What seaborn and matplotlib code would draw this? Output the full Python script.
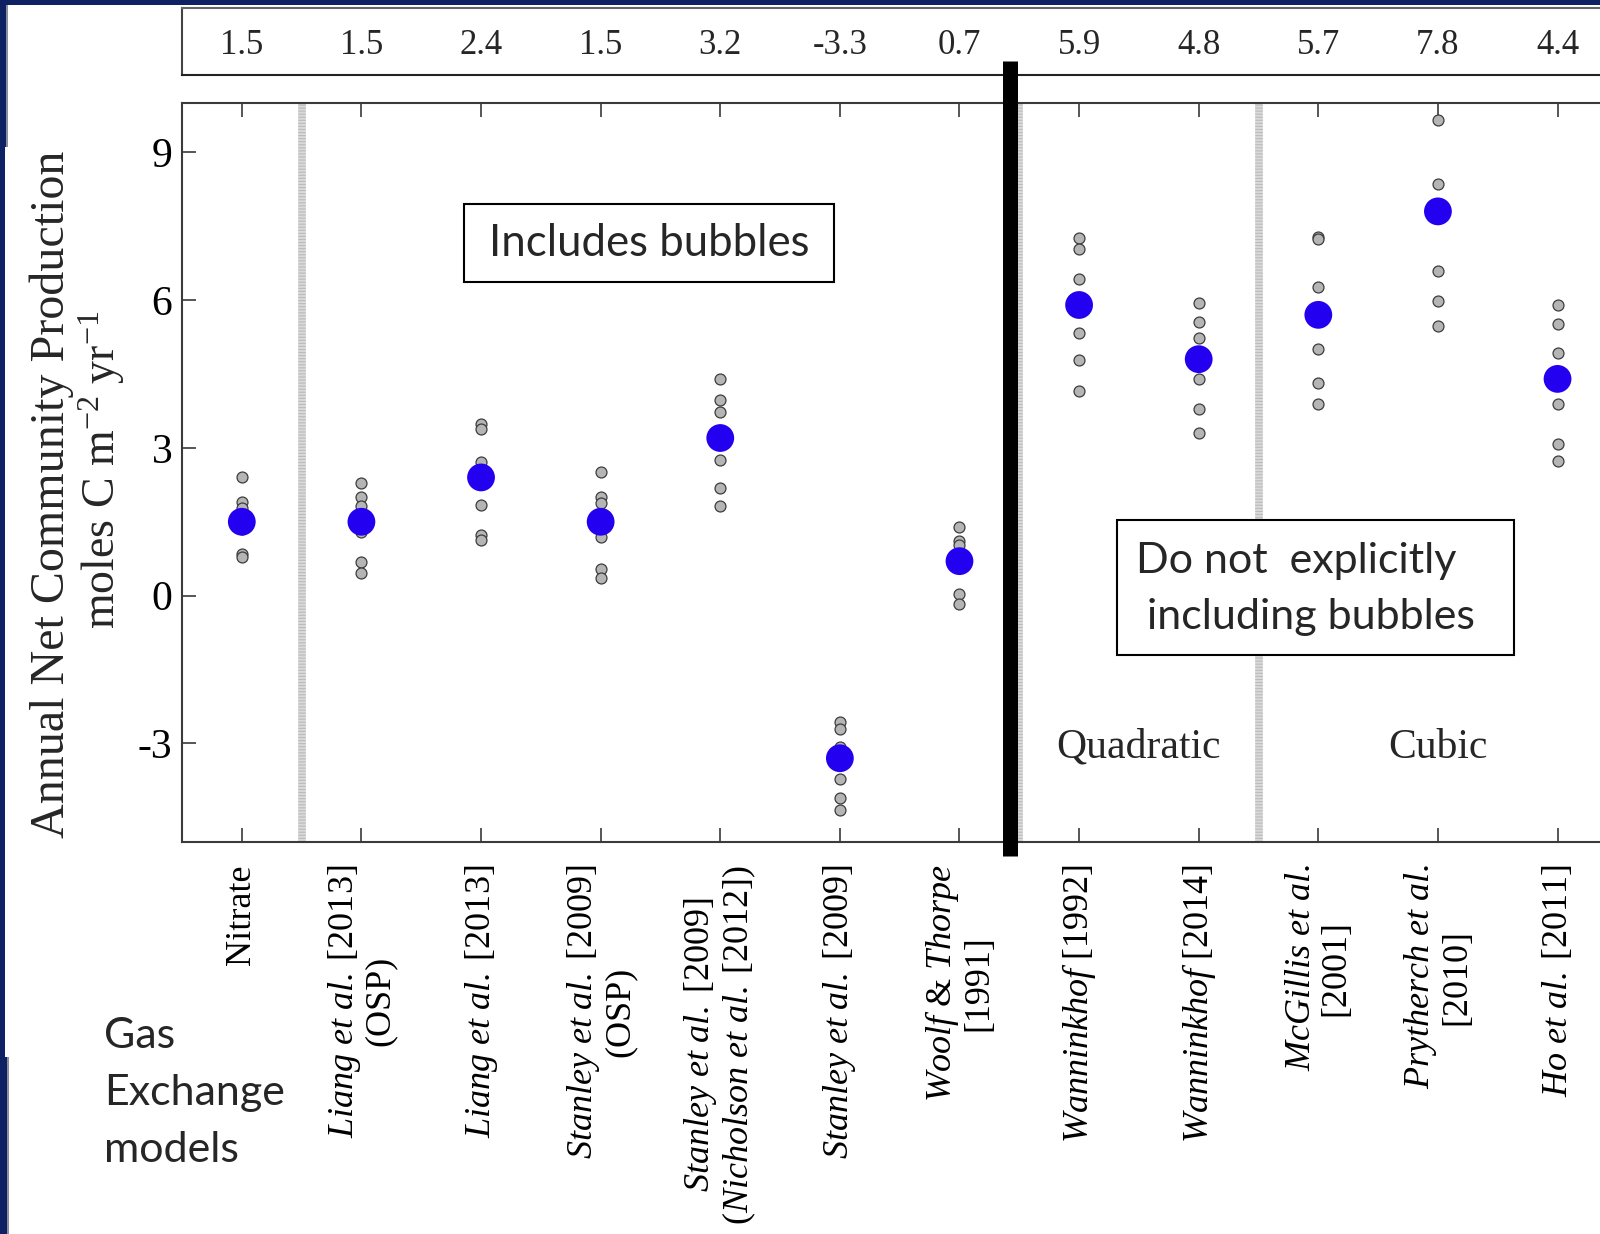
import matplotlib
matplotlib.use("Agg")
import matplotlib.pyplot as plt
from matplotlib.patches import Rectangle
import pandas as pd
import seaborn as sns

# Gas exchange parameterisations along the x axis
gas_models = [
    "Nitrate",
    r"$\mathit{Liang\ et\ al.}\;$[2013]" + "\n(OSP)",
    r"$\mathit{Liang\ et\ al.}\;$[2013]",
    r"$\mathit{Stanley\ et\ al.}\;$[2009]" + "\n(OSP)",
    r"$\mathit{Stanley\ et\ al.}\;$[2009]" + "\n" + r"($\mathit{Nicholson\ et\ al.}\;$[2012])",
    r"$\mathit{Stanley\ et\ al.}\;$[2009]",
    r"$\mathit{Woolf}$ & $\mathit{Thorpe}$" + "\n[1991]",
    r"$\mathit{Wanninkhof}$ [1992]",
    r"$\mathit{Wanninkhof}$ [2014]",
    r"$\mathit{McGillis\ et\ al.}$" + "\n[2001]",
    r"$\mathit{Prytherch\ et\ al.}$" + "\n[2010]",
    r"$\mathit{Ho\ et\ al.}\;$[2011]",
]

# Annual NCP per parameterisation (mol C m-2 yr-1), also listed in the top strip
annual_ncp = [1.5, 1.5, 2.4, 1.5, 3.2, -3.3, 0.7, 5.9, 4.8, 5.7, 7.8, 4.4]

# Individual estimates behind each annual value
ncp_runs = [
    [2.40, 1.90, 1.77, 1.35, 0.85, 0.78],
    [2.28, 2.00, 1.81, 1.30, 0.68, 0.47],
    [3.49, 3.38, 2.72, 1.84, 1.24, 1.12],
    [2.51, 2.01, 1.89, 1.20, 0.54, 0.35],
    [4.39, 3.98, 3.73, 2.76, 2.18, 1.83],
    [-2.57, -2.71, -3.08, -3.72, -4.10, -4.35],
    [1.39, 1.10, 1.02, 0.58, 0.03, -0.16],
    [7.26, 7.03, 6.43, 5.33, 4.79, 4.16],
    [5.94, 5.56, 5.24, 4.40, 3.79, 3.30],
    [7.29, 7.24, 6.26, 5.00, 4.31, 3.90],
    [9.66, 8.35, 6.58, 5.99, 5.47],
    [5.90, 5.51, 4.92, 3.89, 3.07, 2.73],
]

y_ticks = [-3, 0, 3, 6, 9]
group_breaks = [0.5, 6.5, 8.5]
group_names = [("Quadratic", 7.5), ("Cubic", 10.0)]

# ---------------------------------------------------------------- style
sns.set_theme(style="white")
plt.rcParams["font.family"] = ["Liberation Serif", "DejaVu Serif"]
plt.rcParams["mathtext.fontset"] = "custom"
plt.rcParams["mathtext.rm"] = "Liberation Serif"
plt.rcParams["mathtext.it"] = "Liberation Serif:italic"
plt.rcParams["mathtext.bf"] = "Liberation Serif:bold"
plt.rcParams["axes.unicode_minus"] = False

W, H = 1600, 1234
NAVY = "#0d2163"
SPINE = "#3a3a3a"
SANS = ["Lato", "DejaVu Sans"]


def fx(px):
    return px / W


def fy(py):
    return 1 - py / H


runs = pd.DataFrame(
    [(i, v) for i, vals in enumerate(ncp_runs) for v in vals], columns=["pos", "ncp"]
)
means = pd.DataFrame({"pos": range(len(annual_ncp)), "ncp": annual_ncp})

fig = plt.figure(figsize=(W / 100, H / 100), dpi=100)
fig.patch.set_facecolor("white")

# slide frame
fig.add_artist(Rectangle((0, fy(5)), 1, 5 / H, transform=fig.transFigure,
                         facecolor=NAVY, edgecolor="none", zorder=0))
fig.add_artist(Rectangle((0, 0), fx(5), 1, transform=fig.transFigure,
                         facecolor=NAVY, edgecolor="none", zorder=0))
fig.add_artist(Rectangle((0, fy(147)), fx(6), 142 / H, transform=fig.transFigure,
                         facecolor=NAVY, edgecolor="none", zorder=0))
fig.add_artist(Rectangle((fx(6), fy(147)), fx(2), 142 / H, transform=fig.transFigure,
                         facecolor="#8a8f9e", edgecolor="none", zorder=0))
fig.add_artist(Rectangle((0, 0), fx(7), 1 - 1057 / H, transform=fig.transFigure,
                         facecolor=NAVY, edgecolor="none", zorder=0))
fig.add_artist(Rectangle((fx(7), 0), fx(2), 1 - 1057 / H, transform=fig.transFigure,
                         facecolor="#8a8f9e", edgecolor="none", zorder=0))

# ---------------------------------------------------------------- main axes
ax = fig.add_axes([fx(182), fy(842), 1 - fx(182), fy(103) - fy(842)])
ax.set_zorder(3)

for xb in group_breaks:
    ax.axvline(xb, color="#d9d9d9", lw=5.5, zorder=1)
    ax.axvline(xb, color="#bcbcbc", lw=5.5, ls=(0, (0.15, 0.25)), zorder=1.1)

sns.scatterplot(data=runs, x="pos", y="ncp", ax=ax, s=62, color="#b5b5b5",
                edgecolor="#3c3c3c", linewidth=0.9, zorder=3, legend=False)
sns.scatterplot(data=means, x="pos", y="ncp", ax=ax, s=400, color="#2400F0",
                edgecolor="none", linewidth=0, zorder=4, legend=False)

ax.set_xlim(-0.5, 11.355)
ax.set_ylim(-5, 10)
ax.set_xlabel("")
ax.set_ylabel("")
ax.set_yticks(y_ticks)
ax.set_yticklabels([str(t) for t in y_ticks], fontsize=30)
ax.set_xticks(range(len(gas_models)))
ax.set_xticklabels(gas_models, rotation=90, fontsize=26, linespacing=1.05)
ax.tick_params(axis="x", direction="in", length=10, width=1.2, colors=SPINE,
               labelcolor="black", top=True, bottom=True, pad=16)
ax.tick_params(axis="y", direction="in", length=10, width=1.2, colors=SPINE,
               labelcolor="black", left=True, right=False, pad=7)
ax.spines["right"].set_visible(False)
for side in ("left", "top", "bottom"):
    ax.spines[side].set_color(SPINE)
    ax.spines[side].set_linewidth(1.5)

# thick divider between bubble and non-bubble parameterisations
ax.axvline(6.42, ymin=-0.019, ymax=1.057, color="black", lw=10.8,
           solid_capstyle="butt", clip_on=False, zorder=6)

for name, xpos in group_names:
    ax.text(xpos, -3.08, name, fontsize=30, ha="center", va="center", zorder=5)

# ---------------------------------------------------------------- value strip
ax_top = fig.add_axes([fx(182), fy(75), 1 - fx(182), fy(8) - fy(75)])
ax_top.set_zorder(1)
ax_top.set_xlim(ax.get_xlim())
ax_top.set_ylim(0, 1)
ax_top.set_xticks([])
ax_top.set_yticks([])
ax_top.spines["right"].set_visible(False)
ax_top.spines["top"].set_color("#666666")
ax_top.spines["left"].set_color("#444444")
ax_top.spines["bottom"].set_color("#222222")
for side in ("left", "top", "bottom"):
    ax_top.spines[side].set_linewidth(1.5)
for i, v in enumerate(annual_ncp):
    ax_top.text(i, 0.5, f"{v:.1f}", fontsize=25, ha="center",
                va="center_baseline")

# ---------------------------------------------------------------- y label
fig.text(fx(52), fy(494), "Annual Net Community Production", rotation=90,
         fontsize=34.6, ha="center", va="center")
fig.text(fx(102), fy(470), r"moles C m$^{-2}$ yr$^{-1}$", rotation=90,
         fontsize=33, ha="center", va="center")

# ---------------------------------------------------------------- callouts
fig.add_artist(Rectangle((fx(464), fy(282)), fx(834) - fx(464), (282 - 204) / H,
                         transform=fig.transFigure, facecolor="white",
                         edgecolor="black", lw=1.5, zorder=10))
fig.text(fx(649), fy(243), "Includes bubbles", family=SANS, fontsize=31.5,
         ha="center", va="center", zorder=11)

fig.add_artist(Rectangle((fx(1117), fy(655)), fx(1514) - fx(1117), (655 - 520) / H,
                         transform=fig.transFigure, facecolor="white",
                         edgecolor="black", lw=1.5, zorder=10))
fig.text(fx(1136), fy(561), "Do not  explicitly", family=SANS, fontsize=31,
         ha="left", va="center", zorder=11)
fig.text(fx(1136), fy(617), " including bubbles", family=SANS, fontsize=31,
         ha="left", va="center", zorder=11)

for label, yb in (("Gas", 1048), ("Exchange", 1105), ("models", 1162)):
    fig.text(fx(104), fy(yb), label, family=SANS, fontsize=31,
             ha="left", va="baseline", zorder=11)

fig.savefig("out.png", dpi=100)
